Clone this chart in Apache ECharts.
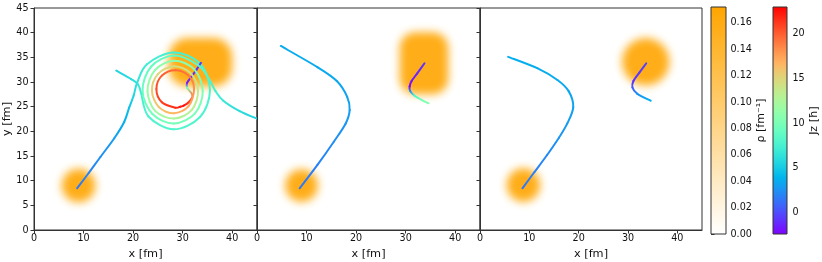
<!DOCTYPE html>
<html>
<head>
<meta charset="utf-8">
<script src="https://cdn.jsdelivr.net/npm/echarts@6/dist/echarts.min.js"></script>
<style>
html,body{margin:0;padding:0;background:#fff;}
#chart{width:822px;height:262px;}
</style>
</head>
<body>
<div id="chart"></div>
<script>
// ---------- data ----------
const xTicks = [0, 10, 20, 30, 40];
const yTicks = [0, 5, 10, 15, 20, 25, 30, 35, 40, 45];
const rhoTicks = [0, 0.02, 0.04, 0.06, 0.08, 0.10, 0.12, 0.14, 0.16];
const jzTicks = [0, 5, 10, 15, 20];
const rhoRange = [0, 0.172];
const jzRange = [-2.37, 22.93];

// density blobs: [centre x, centre y, half width, half height, corner radius, rho] (fm, fm^-1)
const blobs1 = [[9.0, 9.0, 3.4, 3.4, 3.4, 0.155], [33.6, 34.0, 6.4, 4.9, 3.8, 0.155]];
const blobs2 = [[9.0, 9.0, 3.3, 3.3, 3.3, 0.155], [33.7, 33.8, 4.9, 6.3, 3.2, 0.155]];
const blobs3 = [[8.8, 9.1, 3.4, 3.4, 3.4, 0.155], [33.6, 34.1, 4.8, 4.8, 4.8, 0.155]];

// trajectories: [x, y, Jz]
const proj1 = [
  [8.7, 8.45, 1.5], [11.0, 11.5, 2.0], [13.4, 14.8, 2.4], [16.2, 18.6, 3.0], [18.2, 21.9, 3.7],
  [19.2, 24.8, 4.6], [20.1, 27.2, 5.6], [20.8, 29.8, 6.5], [22.8, 33.6, 7.2], [28.2, 36.0, 7.5],
  [33.5, 33.7, 7.7], [35.5, 28.3, 7.8], [33.5, 22.9, 7.9], [28.2, 20.4, 8.0], [23.1, 23.0, 7.8],
  [21.6, 27.8, 7.2], [21.0, 29.5, 6.6], [19.6, 30.6, 6.0], [16.6, 32.3, 5.5]
];
const targ1 = [
  [33.7, 33.9, -0.6], [32.8, 32.5, -0.9], [31.8, 31.1, -1.2], [30.9, 29.8, -1.5], [30.9, 28.8, 10],
  [32.0, 27.3, 19], [31.2, 25.9, 21], [30.2, 25.2, 22.5], [29.5, 25.0, 22], [28.5, 24.8, 21.5],
  [25.8, 25.9, 21], [24.7, 28.6, 20.5], [25.8, 31.3, 20], [28.5, 32.4, 19.5], [31.2, 31.3, 19],
  [32.3, 28.6, 18],
  [31.2, 25.1, 17], [28.25, 23.65, 16.5], [25.2, 24.9, 16], [23.8, 28.2, 15.5], [25.0, 31.6, 15],
  [28.25, 33.2, 14.5], [31.6, 31.8, 14], [33.1, 28.2, 13.5],
  [31.8, 24.3, 13], [28.25, 22.6, 12.5], [24.5, 24.1, 12], [22.9, 28.2, 11.5], [24.4, 32.4, 11],
  [28.25, 34.3, 10.8], [32.3, 32.6, 10.5], [34.05, 28.2, 10.2],
  [32.5, 23.65, 10], [28.25, 21.6, 9.8], [23.9, 23.5, 9.5], [21.9, 28.2, 9.2], [23.65, 33.15, 9],
  [28.25, 35.35, 8.8], [33.1, 33.4, 8.5],
  [35.2, 30.8, 8.0], [36.6, 28.2, 7.5], [38.2, 26.2, 6.8], [41.5, 24.1, 6.0], [45.4, 22.4, 5.5]
];
const proj2 = [
  [8.6, 8.45, 1.5], [12.2, 13.2, 1.9], [15.5, 17.9, 2.3], [17.9, 21.6, 2.7], [18.7, 24.3, 3.0],
  [18.2, 27.0, 3.2], [16.1, 30.2, 3.4], [12.2, 33.0, 3.5], [4.8, 37.3, 3.6]
];
const targ2 = [
  [33.8, 33.8, -0.8], [32.3, 31.7, -1.2], [31.2, 30.2, -1.8], [30.8, 29.1, -2.2], [30.9, 28.2, 2],
  [31.8, 27.2, 8], [33.2, 26.4, 10], [34.6, 25.7, 10.5]
];
const proj3 = [
  [8.6, 8.45, 1.5], [11.0, 11.7, 1.9], [13.6, 15.2, 2.2], [16.0, 18.7, 2.6], [17.7, 21.6, 2.9],
  [18.9, 24.9, 3.2], [18.0, 28.1, 3.4], [15.7, 30.4, 3.5], [11.6, 32.8, 3.6], [5.7, 35.1, 3.7]
];
const targ3 = [
  [33.7, 33.8, -0.3], [32.3, 31.9, -0.6], [31.1, 30.2, -0.9], [30.9, 28.9, 0.5], [31.9, 27.6, 2.5],
  [34.6, 26.2, 3.8]
];

// ---------- colour maps ----------
function toHex(r, g, b) {
  const h = v => ('0' + Math.round(Math.max(0, Math.min(1, v)) * 255).toString(16)).slice(-2);
  return '#' + h(r) + h(g) + h(b);
}
function rainbow(t) {
  t = Math.max(0, Math.min(1, t));
  return toHex(Math.abs(2 * t - 0.5), Math.sin(Math.PI * t), Math.cos(Math.PI * t / 2));
}
function orangeMap(t) {
  t = Math.max(0, Math.min(1, t));
  return toHex(1, 1 - t * (90 / 255), 1 - t);
}
const jzColor = v => rainbow((v - jzRange[0]) / (jzRange[1] - jzRange[0]));
const rhoColor = v => orangeMap((v - rhoRange[0]) / (rhoRange[1] - rhoRange[0]));

// ---------- render functions ----------
const FONT = 'DejaVu Sans';
const TXT = '#111';
const AX = '#333';
const TICK_FS = 9.6;

function blobRender(params, api) {
  const cx = api.value(0), cy = api.value(1), hw = api.value(2), hh = api.value(3), cr = api.value(4), rho = api.value(5);
  const a = api.coord([cx - hw, cy + hh]);
  const b = api.coord([cx + hw, cy - hh]);
  const rs = api.size([cr, cr]);
  const OFF = 3000;
  const col = rhoColor(rho);
  return {
    type: 'rect',
    shape: { x: a[0] - OFF, y: a[1], width: b[0] - a[0], height: b[1] - a[1], r: Math.min(rs[0], rs[1]) },
    style: { fill: col, shadowBlur: 9, shadowColor: col, shadowOffsetX: OFF, shadowOffsetY: 0 }
  };
}

function trajRender(params, api) {
  const i = params.dataIndexInside, n = params.dataInsideLength;
  if (i >= n - 1) return { type: 'group', children: [] };
  const P = k => { k = Math.max(0, Math.min(n - 1, k)); return api.coord([api.value(0, k), api.value(1, k)]); };
  const p0 = P(i - 1), p1 = P(i), p2 = P(i + 1), p3 = P(i + 2);
  const t = 1 / 6;
  const c1 = [p1[0] + (p2[0] - p0[0]) * t, p1[1] + (p2[1] - p0[1]) * t];
  const c2 = [p2[0] - (p3[0] - p1[0]) * t, p2[1] - (p3[1] - p1[1]) * t];
  const col1 = jzColor(api.value(2, i)), col2 = jzColor(api.value(2, i + 1));
  return {
    type: 'bezierCurve',
    shape: { x1: p1[0], y1: p1[1], x2: p2[0], y2: p2[1], cpx1: c1[0], cpy1: c1[1], cpx2: c2[0], cpy2: c2[1] },
    style: {
      fill: null, lineWidth: 2, lineCap: 'round',
      stroke: new echarts.graphic.LinearGradient(p1[0], p1[1], p2[0] + 0.01, p2[1] + 0.01,
        [{ offset: 0, color: col1 }, { offset: 1, color: col2 }], true)
    }
  };
}

function barRender(stopsFn) {
  return function (params, api) {
    const a = api.coord([api.value(0), api.value(3)]);
    const b = api.coord([api.value(2), api.value(1)]);
    const stops = [];
    for (let k = 0; k <= 40; k++) stops.push({ offset: k / 40, color: stopsFn(1 - k / 40) });
    return {
      type: 'rect',
      shape: { x: a[0], y: a[1], width: b[0] - a[0], height: b[1] - a[1] },
      style: { fill: new echarts.graphic.LinearGradient(0, 0, 0, 1, stops), stroke: AX, lineWidth: 1 }
    };
  };
}

// ---------- layout ----------
const panelLeft = [34, 257, 480];
const panelWidth = [223, 223, 222];
const grids = panelLeft.map((l, i) => ({
  left: l, top: 8, width: panelWidth[i], height: 222,
  show: true, borderColor: AX, borderWidth: 1, backgroundColor: 'transparent', outerBoundsMode: 'none'
}));
grids.push({ left: 711, top: 7, width: 15, height: 227, outerBoundsMode: 'none' });
grids.push({ left: 773, top: 7, width: 14, height: 227, outerBoundsMode: 'none' });

const xAxes = panelLeft.map((l, i) => ({
  gridIndex: i, type: 'value', min: 0, max: 45,
  axisLine: { show: true, lineStyle: { color: AX, width: 1 } },
  axisTick: { show: true, length: 3.5, customValues: xTicks, lineStyle: { color: AX } },
  axisLabel: { customValues: xTicks, fontSize: TICK_FS, color: TXT, fontFamily: FONT, margin: 3.5 },
  splitLine: { show: false },
  name: 'x [fm]', nameLocation: 'middle', nameGap: 14,
  nameTextStyle: { fontSize: 11.3, color: TXT, fontFamily: FONT }
}));
xAxes.push({ gridIndex: 3, type: 'value', min: 0, max: 1, show: false });
xAxes.push({ gridIndex: 4, type: 'value', min: 0, max: 1, show: false });

const yAxes = panelLeft.map((l, i) => ({
  gridIndex: i, type: 'value', min: 0, max: 45,
  axisLine: { show: true, lineStyle: { color: AX, width: 1 } },
  axisTick: { show: true, length: 3.5, customValues: yTicks, lineStyle: { color: AX } },
  axisLabel: { show: i === 0, customValues: yTicks, fontSize: TICK_FS, color: TXT, fontFamily: FONT, margin: 5.5 },
  splitLine: { show: false },
  name: i === 0 ? 'y [fm]' : '', nameLocation: 'middle', nameGap: 17, nameRotate: 90,
  nameTextStyle: { fontSize: 11.3, color: TXT, fontFamily: FONT }
}));
yAxes.push({
  gridIndex: 3, type: 'value', position: 'right', min: rhoRange[0], max: rhoRange[1],
  axisLine: { show: false },
  axisTick: { show: true, length: 3.5, customValues: rhoTicks, lineStyle: { color: AX } },
  axisLabel: { customValues: rhoTicks, formatter: v => v.toFixed(2), fontSize: TICK_FS, color: TXT, fontFamily: FONT, margin: 4.5 },
  splitLine: { show: false },
  name: 'ρ [fm⁻¹]', nameLocation: 'middle', nameRotate: 90, nameGap: 29,
  nameTextStyle: { fontSize: 11, color: TXT, fontFamily: FONT }
});
yAxes.push({
  gridIndex: 4, type: 'value', position: 'right', min: jzRange[0], max: jzRange[1],
  axisLine: { show: false },
  axisTick: { show: true, length: 3.5, customValues: jzTicks, lineStyle: { color: AX } },
  axisLabel: { customValues: jzTicks, formatter: v => String(v), fontSize: TICK_FS, color: TXT, fontFamily: FONT, margin: 5.5 },
  splitLine: { show: false },
  name: 'Jz [ħ]', nameLocation: 'middle', nameRotate: 90, nameGap: 20,
  nameTextStyle: { fontSize: 11, color: TXT, fontFamily: FONT }
});

const series = [];
const blobSets = [blobs1, blobs2, blobs3];
const trajSets = [[proj1, targ1], [proj2, targ2], [proj3, targ3]];
blobSets.forEach((b, i) => series.push({
  type: 'custom', xAxisIndex: i, yAxisIndex: i, data: b, renderItem: blobRender,
  clip: true, z: 1, encode: { x: 0, y: 1 }, silent: true
}));
trajSets.forEach((set, i) => set.forEach((tr, j) => series.push({
  type: 'custom', xAxisIndex: i, yAxisIndex: i, data: tr, renderItem: trajRender,
  clip: true, z: 3 + j, encode: { x: 0, y: 1 }, silent: true
})));
series.push({
  type: 'custom', xAxisIndex: 3, yAxisIndex: 3, data: [[0, rhoRange[0], 1, rhoRange[1]]],
  renderItem: barRender(orangeMap), encode: { x: [0, 2], y: [1, 3] }, silent: true
});
series.push({
  type: 'custom', xAxisIndex: 4, yAxisIndex: 4, data: [[0, jzRange[0], 1, jzRange[1]]],
  renderItem: barRender(rainbow), encode: { x: [0, 2], y: [1, 3] }, silent: true
});

const chart = echarts.init(document.getElementById('chart'), null, { renderer: 'canvas' });
chart.setOption({
  animation: false,
  backgroundColor: '#ffffff',
  textStyle: { fontFamily: FONT },
  grid: grids,
  xAxis: xAxes,
  yAxis: yAxes,
  series: series
});
</script>
</body>
</html>
